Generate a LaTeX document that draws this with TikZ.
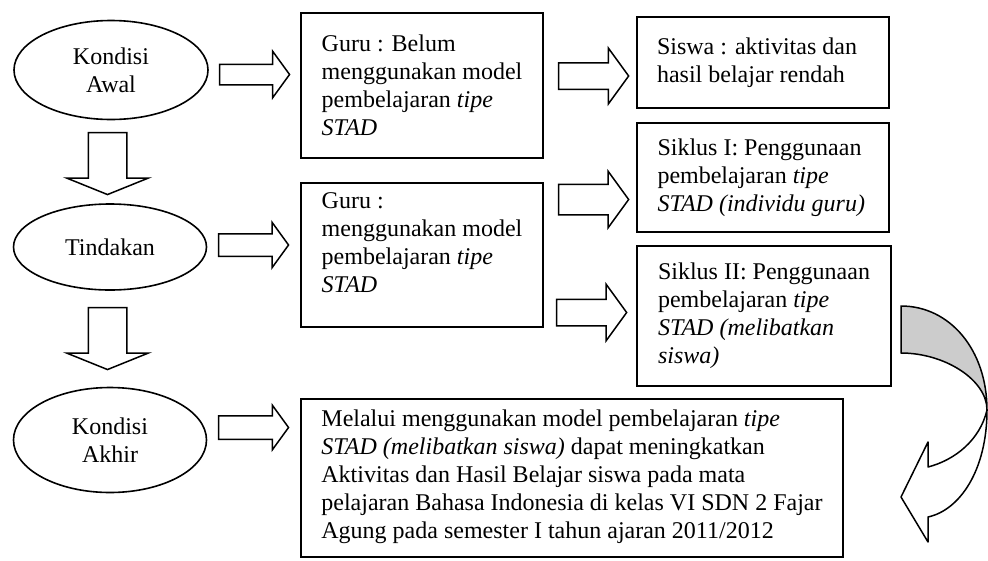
\documentclass[tikz,border=0pt]{standalone}
\usepackage{fontspec}
\setmainfont{Liberation Serif}
\usetikzlibrary{shapes.geometric,shapes.arrows,calc}

\tikzset{
  kondisi/.style={ellipse, draw, line width=1.6pt, align=center, inner sep=0pt},
  kotak/.style={rectangle, draw, line width=1.8pt, align=left, inner sep=0pt},
  panah/.style 2 args={single arrow, draw, line width=1.5pt, inner xsep=0pt,
    inner ysep=#1, minimum height=70pt, single arrow head extend=#2,
    single arrow tip angle=108, anchor=tail},
  panahbawah/.style={single arrow, draw, line width=1.5pt, inner sep=18.5pt,
    minimum height=62pt, single arrow head extend=21.5pt,
    single arrow tip angle=136, shape border rotate=270, anchor=tail}
}

\begin{document}
\begin{tikzpicture}[x=1pt, y=-1pt, every node/.style={font=\fontsize{24}{28}\selectfont}]
  \useasboundingbox (0,0) rectangle (988,560);
  % Draw the three stages
  \node[kondisi, minimum width=194pt, minimum height=99pt] (awal) at (111,70) {Kondisi\\Awal};
  \node[kondisi, minimum width=193pt, minimum height=86pt] (tindakan) at (110,247) {Tindakan};
  \node[kondisi, minimum width=193pt, minimum height=105pt] (akhir) at (110,440) {Kondisi\\Akhir};
  % Draw boxes for each stage
  \node[kotak, minimum width=242pt, minimum height=145pt] (guru1) at (422,85.5)
    {Guru : Belum\\menggunakan model\\pembelajaran \textit{tipe}\\\textit{STAD}};
  \node[kotak, minimum width=242pt, minimum height=144pt] (guru2) at (422,255)
    {Guru :\\menggunakan model\\pembelajaran \textit{tipe}\\\textit{STAD}\rule[-24pt]{0pt}{24pt}};
  \node[kotak, minimum width=252pt, minimum height=91pt] (siswa) at (763,62.5)
    {Siswa : aktivitas dan\hspace*{12pt}\\hasil belajar rendah};
  \node[kotak, minimum width=252pt, minimum height=109pt] (siklus1) at (763,177.5)
    {Siklus I: Penggunaan\hspace*{7pt}\\pembelajaran \textit{tipe}\\\textit{STAD (individu guru)}};
  \node[kotak, minimum width=254pt, minimum height=140pt] (siklus2) at (764,316)
    {Siklus II: Penggunaan\\pembelajaran \textit{tipe}\\\textit{STAD (melibatkan}\\\textit{siswa)}};
  \node[kotak, minimum width=542pt, minimum height=158pt] (hasil) at (572,478)
    {Melalui menggunakan model pembelajaran \textit{tipe}\\\textit{STAD (melibatkan siswa)} dapat meningkatkan\\Aktivitas dan Hasil Belajar siswa pada mata\\pelajaran Bahasa Indonesia di kelas VI SDN 2 Fajar\\Agung pada semester I tahun ajaran 2011/2012\rule[-8pt]{0pt}{8pt}};
  % Draw block arrows
  \node[panah={9.5pt}{13pt}] (r1) at ($(awal.east)+(10,4.5)$) {};
  \node[panah={10.5pt}{11.5pt}] (r2) at ($(tindakan.east)+(10.5,-2)$) {};
  \node[panah={11pt}{10.5pt}] (r3) at ($(akhir.east)+(10.5,-12.5)$) {};
  \node[panah={12.5pt}{14.5pt}] (r4) at ($(guru1.east)+(14,-9.5)$) {};
  \node[panah={14.5pt}{13pt}] (r5) at ($(guru2.east)+(14,-55.5)$) {};
  \node[panah={12.5pt}{15pt}] (r6) at ($(guru2.east)+(12,57.5)$) {};
  \node[panahbawah] (d1) at ($(awal.south)+(-3.5,11.5)$) {};
  \node[panahbawah] (d2) at ($(tindakan.south)+(-2.5,16)$) {};
  % Draw curved arrow back to the result
  \filldraw[fill=gray!40, line width=1.5pt, line join=round]
    (901,306) .. controls (950,306) and (987,350) .. (987,410)
    .. controls (987,380) and (945,353) .. (901,353) -- cycle;
  \filldraw[fill=white, line width=1.5pt, line join=round]
    (987,410) .. controls (987,470) and (960,510) .. (928,517)
    -- (928,542) -- (901,497) -- (928,442) -- (928,467)
    .. controls (955,460) and (980,440) .. (987,410) -- cycle;
\end{tikzpicture}
\end{document}
